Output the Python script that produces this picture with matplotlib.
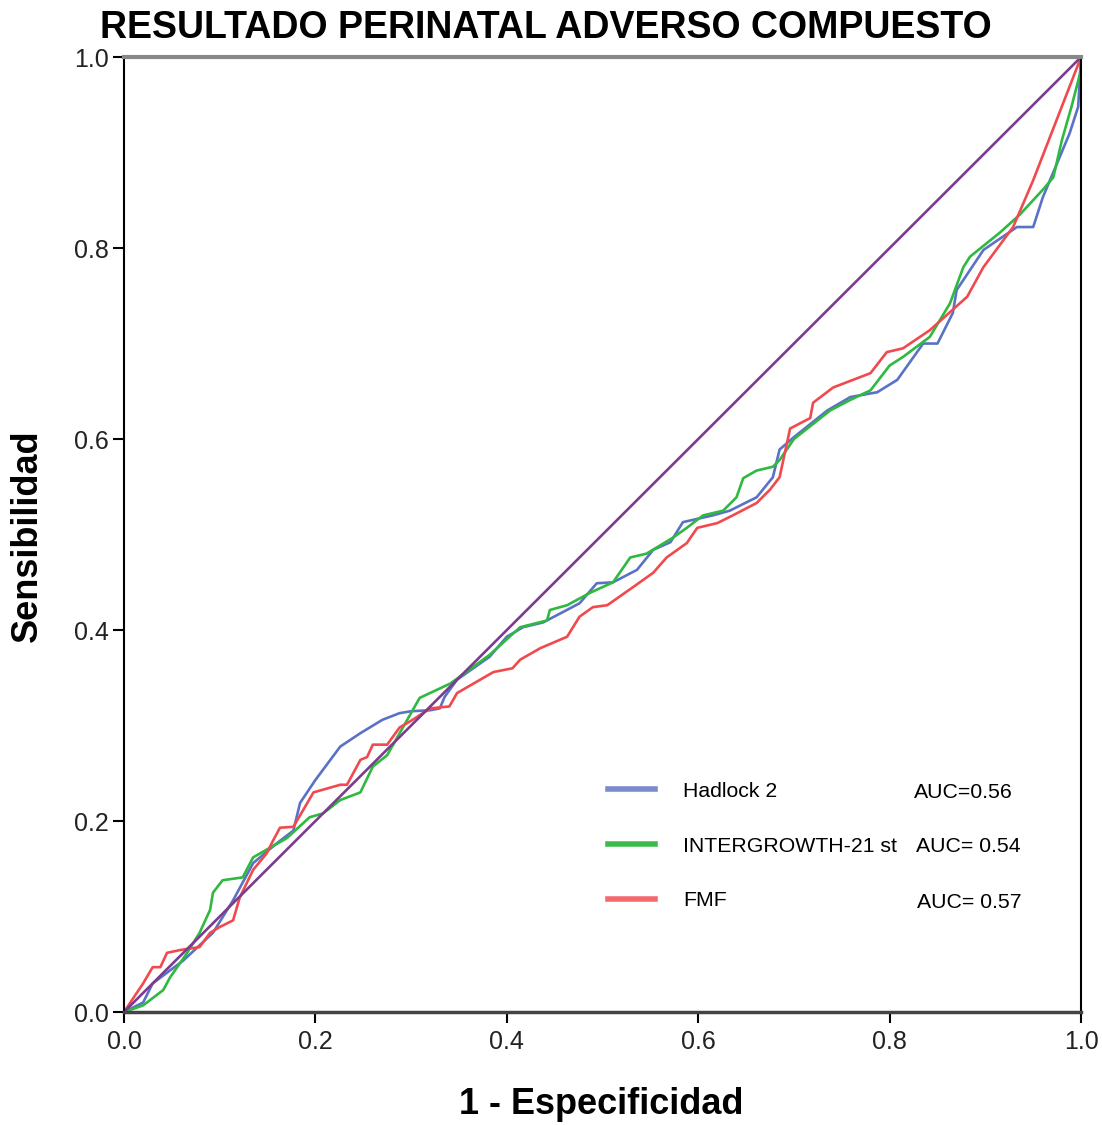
import numpy as np
import matplotlib
matplotlib.use('Agg')
import matplotlib.pyplot as plt
from matplotlib.lines import Line2D

plt.rcParams['font.family'] = ['Liberation Sans', 'DejaVu Sans']

# Curvas ROC
fpr_hadlock = [0, 0.02, 0.03, 0.062, 0.093, 0.114, 0.135, 0.16, 0.177, 0.184, 0.20, 0.226, 0.247, 0.27,
               0.288, 0.30, 0.32, 0.33, 0.335, 0.348, 0.382, 0.40, 0.417, 0.438, 0.476, 0.494, 0.511, 0.536,
               0.553, 0.571, 0.584, 0.615, 0.633, 0.661, 0.678, 0.685, 0.70, 0.735, 0.759, 0.787, 0.808,
               0.835, 0.85, 0.866, 0.870, 0.898, 0.933, 0.95, 0.96, 0.988, 0.997, 1.0]
tpr_hadlock = [0, 0.01, 0.03, 0.054, 0.083, 0.117, 0.156, 0.177, 0.19, 0.219, 0.243, 0.278, 0.292, 0.306,
               0.313, 0.315, 0.316, 0.318, 0.33, 0.348, 0.372, 0.393, 0.403, 0.408, 0.428, 0.449, 0.45, 0.463,
               0.484, 0.492, 0.513, 0.52, 0.525, 0.539, 0.56, 0.589, 0.602, 0.63, 0.644, 0.649, 0.662,
               0.70, 0.70, 0.732, 0.756, 0.798, 0.822, 0.822, 0.853, 0.92, 0.948, 1.0]

fpr_intergrowth = [0, 0.02, 0.041, 0.048, 0.066, 0.079, 0.09, 0.093, 0.103, 0.124, 0.135, 0.149, 0.17, 0.194,
                   0.208, 0.226, 0.247, 0.26, 0.275, 0.288, 0.309, 0.341, 0.382, 0.414, 0.442, 0.445, 0.463,
                   0.487, 0.511, 0.529, 0.546, 0.574, 0.588, 0.605, 0.626, 0.64, 0.647, 0.661, 0.678, 0.685,
                   0.70, 0.738, 0.759, 0.78, 0.80, 0.814, 0.842, 0.863, 0.877, 0.884, 0.915, 0.936, 0.96,
                   0.971, 0.98, 0.99, 0.999, 1.0]
tpr_intergrowth = [0, 0.007, 0.023, 0.036, 0.062, 0.083, 0.107, 0.125, 0.138, 0.141, 0.162, 0.17, 0.182, 0.204,
                   0.208, 0.222, 0.23, 0.257, 0.269, 0.292, 0.329, 0.344, 0.374, 0.403, 0.41, 0.421, 0.426,
                   0.439, 0.45, 0.476, 0.48, 0.497, 0.507, 0.52, 0.525, 0.539, 0.559, 0.567, 0.571, 0.578,
                   0.60, 0.63, 0.641, 0.651, 0.677, 0.686, 0.707, 0.742, 0.780, 0.791, 0.816, 0.835, 0.861,
                   0.874, 0.913, 0.948, 0.983, 1.0]

fpr_fmf = [0, 0.02, 0.03, 0.038, 0.045, 0.059, 0.079, 0.09, 0.10, 0.114, 0.121, 0.135, 0.149, 0.156, 0.163,
           0.177, 0.198, 0.226, 0.233, 0.247, 0.254, 0.26, 0.275, 0.288, 0.30, 0.32, 0.34, 0.348, 0.386, 0.406,
           0.414, 0.435, 0.463, 0.476, 0.49, 0.505, 0.532, 0.553, 0.567, 0.588, 0.599, 0.62, 0.636, 0.661,
           0.675, 0.685, 0.696, 0.717, 0.72, 0.741, 0.78, 0.797, 0.814, 0.842, 0.881, 0.898, 0.929, 0.95, 1.0]
tpr_fmf = [0, 0.03, 0.047, 0.047, 0.062, 0.065, 0.068, 0.083, 0.089, 0.096, 0.12, 0.149, 0.166, 0.18, 0.193,
           0.194, 0.23, 0.238, 0.238, 0.264, 0.267, 0.28, 0.28, 0.298, 0.305, 0.318, 0.32, 0.334, 0.356, 0.36,
           0.369, 0.381, 0.393, 0.414, 0.424, 0.426, 0.445, 0.46, 0.476, 0.491, 0.507, 0.512, 0.52, 0.533,
           0.547, 0.56, 0.611, 0.622, 0.638, 0.654, 0.669, 0.691, 0.695, 0.714, 0.749, 0.78, 0.822, 0.871, 1.0]

nombres = ['Hadlock 2', 'INTERGROWTH-21 st', 'FMF']
auc_textos = ['AUC=0.56', 'AUC= 0.54', 'AUC= 0.57']
colores = ['#5a72c6', '#2fb940', '#f04a4e']
colores_leyenda = ['#7a8bcc', '#3dbb4a', '#f26a6d']
ticks = [0.0, 0.2, 0.4, 0.6, 0.8, 1.0]

fig = plt.figure(figsize=(11.02, 11.25), dpi=100)
ax = fig.add_axes([0.1125, 0.1004, 0.8685, 0.8489])

curvas = [(fpr_hadlock, tpr_hadlock), (fpr_intergrowth, tpr_intergrowth), (fpr_fmf, tpr_fmf)]
for (fx, fy), c in zip(curvas, colores):
    ax.plot(fx, fy, color=c, lw=1.9, solid_joinstyle='round')

# linea de referencia
ax.plot([0, 1], [0, 1], color='#7b3b8e', lw=1.9)

ax.set_xlim(0, 1)
ax.set_ylim(0, 1)
ax.set_xticks(ticks)
ax.set_yticks(ticks)
ax.set_xticklabels([f'{t:.1f}' for t in ticks])
ax.set_yticklabels([f'{t:.1f}' for t in ticks])
ax.tick_params(direction='out', length=8, width=1.5, labelsize=18, colors='black',
               labelcolor='#222222', pad=3)
ax.tick_params(axis='x', pad=5)

ax.spines['left'].set_linewidth(1.5)
ax.spines['right'].set_linewidth(1.5)
ax.spines['bottom'].set_linewidth(2.5)
ax.spines['bottom'].set_color('#444444')
ax.spines['top'].set_linewidth(3)
ax.spines['top'].set_color('#888888')

fig.text(0.4955, 0.975, 'RESULTADO PERINATAL ADVERSO COMPUESTO', ha='center', va='center',
         fontsize=27, fontweight='bold')
fig.text(0.546, 0.018, '1 - Especificidad', ha='center', va='center', fontsize=26, fontweight='bold')
fig.text(0.025, 0.524, 'Sensibilidad', ha='center', va='center', rotation=90, fontsize=26, fontweight='bold')

handles = [Line2D([], [], color=c, lw=4) for c in colores_leyenda]
ax.legend(handles, nombres, loc='upper left', bbox_to_anchor=(0.506, 0.241), frameon=False,
          fontsize=15.3, handlelength=2.2, handletextpad=1.32, labelspacing=1.68,
          borderpad=0, borderaxespad=0)

auc_y = [0.230, 0.173, 0.115]
auc_x = [0.8255, 0.8276, 0.8286]
for tx, xx, yy in zip(auc_textos, auc_x, auc_y):
    ax.text(xx, yy, tx, transform=ax.transAxes, fontsize=15.3, ha='left', va='center')

fig.savefig('out.png', dpi=100)
